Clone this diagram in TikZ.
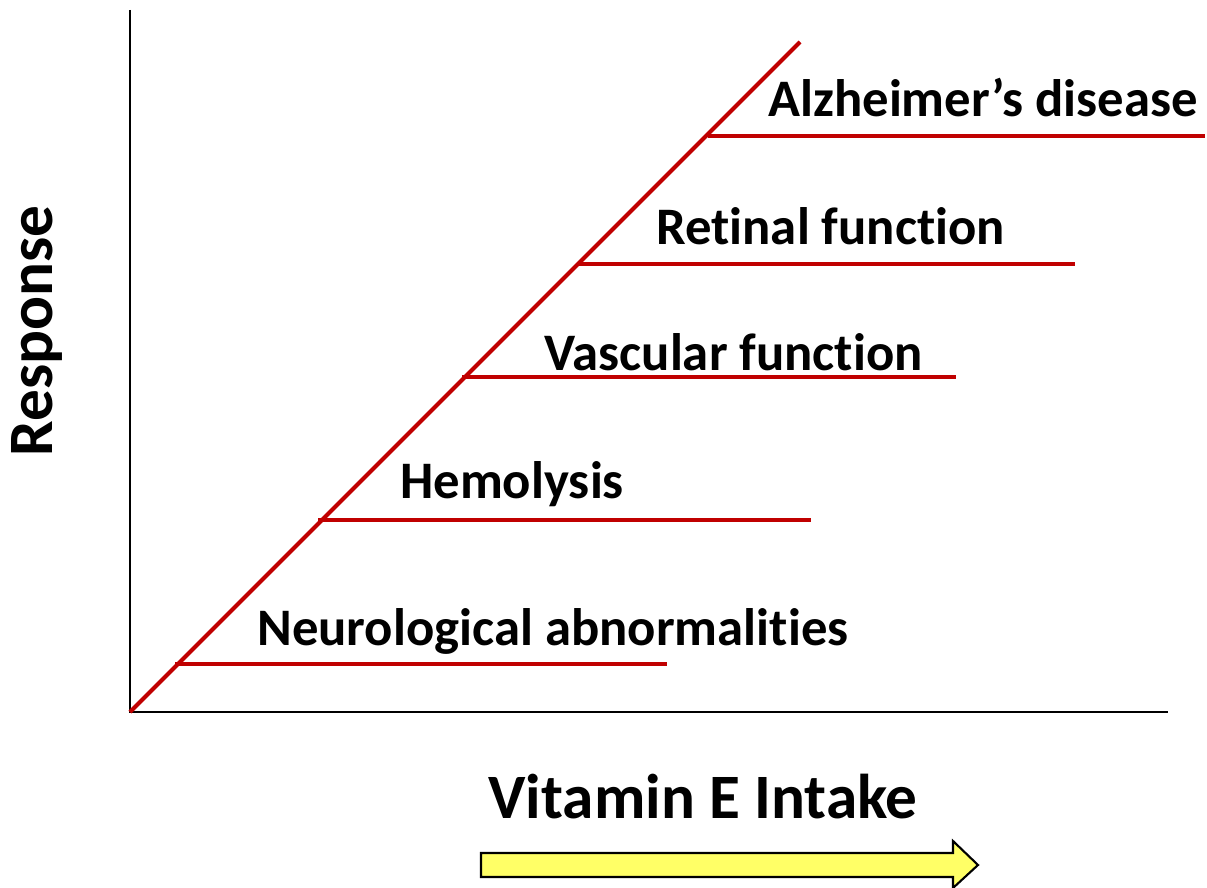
\documentclass[tikz,border=0pt]{standalone}
\usepackage{fontspec}
\setmainfont{Carlito}[Ligatures=NoCommon]

\definecolor{darkred}{RGB}{192,0,0}
\definecolor{arrowyellow}{RGB}{255,255,102}

\tikzset{
  axis/.style={black,line width=1.7pt},
  resp/.style={darkred,line width=2.3pt},
  lbl/.style={font=\bfseries\fontsize{30}{36}\selectfont,inner sep=0pt},
  title/.style={font=\bfseries\fontsize{36}{42}\selectfont,inner sep=0pt},
}

\begin{document}
\begin{tikzpicture}[x=0.02cm,y=-0.02cm]
\useasboundingbox (0,0) rectangle (1207,888);
% axes
\coordinate (o) at (130,712);
\coordinate (ytop) at (130,10);
\coordinate (xend) at (1168,712);
\draw [axis] (ytop) -- (o) -- (xend);
% diagonal
\coordinate (dtop) at (800,42);
\draw [resp] (o) -- (dtop);
% thresholds
\coordinate (n1) at (175,664);
\coordinate (n2) at (667,664);
\draw [resp] (n1) -- (n2);
\coordinate (h1) at (318,520);
\coordinate (h2) at (811,520);
\draw [resp] (h1) -- (h2);
\coordinate (v1) at (462,377);
\coordinate (v2) at (956,377);
\draw [resp] (v1) -- (v2);
\coordinate (r1) at (578,264);
\coordinate (r2) at (1075,264);
\draw [resp] (r1) -- (r2);
\coordinate (a1) at (708,136);
\coordinate (a2) at (1205,136);
\draw [resp] (a1) -- (a2);
% labels
\node [lbl,anchor=base west] (neuro) at (257,645) {Neurological abnormalities};
\node [lbl,anchor=base west] (hemo) at (400,499) {Hemolysis};
\node [lbl,anchor=base west] (vasc) at (544,371) {Vascular function};
\node [lbl,anchor=base west] (retina) at (656,245) {Retinal function};
\node [lbl,anchor=base west] (alz) at (768,117) {Alzheimer’s disease};
\node [title,rotate=90] (response) at (37,331) {Response};
\node [title] (intake) at (703,797) {Vitamin E Intake};
% direction arrow
\filldraw [fill=arrowyellow,draw=black,line width=1.2pt,line join=miter]
  (481,853) -- (953,853) -- (953,841) -- (978,865) -- (953,888)
  -- (953,877) -- (481,877) -- cycle;
\end{tikzpicture}
\end{document}
